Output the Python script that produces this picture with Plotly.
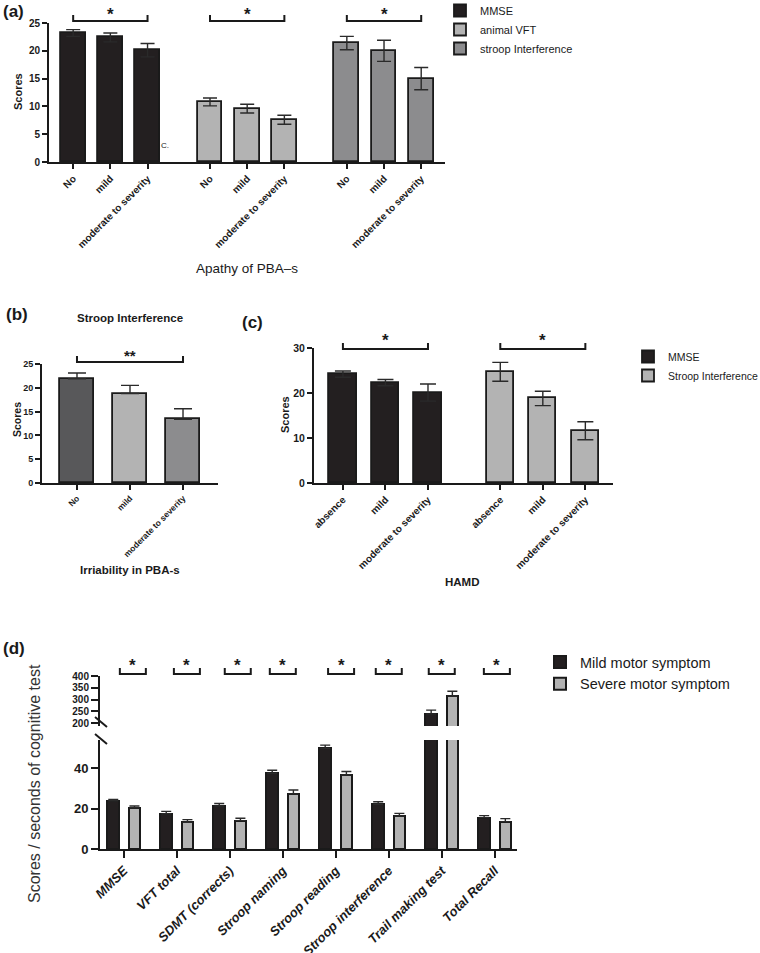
import plotly.graph_objects as go

W, H = 760, 953
FONT = "Liberation Sans, Arial, Helvetica, sans-serif"
INK = "#1a1a1a"

# ---------------- data ----------------
a_levels = ["No", "mild", "moderate to severity"]
a_tests = ["MMSE", "animal VFT", "stroop Interference"]
a_mmse = [23.2, 22.4, 20.1]
a_mmse_err = [0.6, 0.8, 1.2]
a_vft = [10.8, 9.6, 7.6]
a_vft_err = [0.7, 0.8, 0.8]
a_stroop = [21.4, 20.0, 15.0]
a_stroop_err = [1.2, 1.9, 2.0]
a_colors = ["#231f20", "#b3b3b3", "#8c8c8e"]

b_levels = ["No", "mild", "moderate to severity"]
b_stroop = [21.9, 18.8, 13.4]
b_stroop_err = [1.2, 1.7, 2.2]
b_colors = ["#58585a", "#b3b3b3", "#8c8c8e"]

c_levels = ["absence", "mild", "moderate to severity"]
c_tests = ["MMSE", "Stroop Interference"]
c_mmse = [24.2, 22.3, 20.1]
c_mmse_err = [0.7, 0.7, 1.9]
c_stroop = [24.7, 18.8, 11.6]
c_stroop_err = [2.1, 1.6, 2.0]
c_colors = ["#231f20", "#b3b3b3"]

d_tests = ["MMSE", "VFT total", "SDMT (corrects)", "Stroop naming", "Stroop reading",
           "Stroop interference", "Trail making test", "Total Recall"]
d_groups = ["Mild motor symptom", "Severe motor symptom"]
d_mild = [23.8, 17.4, 21.2, 37.4, 49.7, 22.1, 238, 15.5]
d_mild_err = [0.7, 1.2, 1.3, 1.5, 1.6, 1.2, 17, 1.0]
d_severe = [20.4, 13.2, 14.0, 27.2, 36.6, 16.3, 315, 13.5]
d_severe_err = [0.8, 1.3, 1.2, 1.9, 1.7, 1.3, 20, 1.5]
d_colors = ["#231f20", "#b3b3b3"]
d_bracket_shift = [0.17, 0.19, 0.15, 0.0, 0.1, 0.0, 0.0, 0.04]


# ---------------- helpers ----------------
def px(x):
    return x / W


def py(y):
    return 1 - y / H


def dom_x(l, r):
    return [px(l), px(r)]


def dom_y(top, bottom):
    return [py(bottom), py(top)]


def data_to_pix(xv, pl, pr, rng):
    return pl + (xv - rng[0]) / (rng[1] - rng[0]) * (pr - pl)


shapes = []
annotations = []


def bracket(x1, x2, yh, ystar, label="*", up=6, size=17):
    shapes.append(dict(type="path", xref="paper", yref="paper",
                       path=f"M {px(x1)},{py(yh-up)} L {px(x1)},{py(yh)} L {px(x2)},{py(yh)} L {px(x2)},{py(yh-up)}",
                       line=dict(color=INK, width=2)))
    annotations.append(dict(text=f"<b>{label}</b>", x=px((x1 + x2) / 2), y=py(ystar),
                            xref="paper", yref="paper", showarrow=False,
                            xanchor="center", yanchor="middle",
                            font=dict(size=size, color=INK, family=FONT)))


def text(t, x, y, size, bold=False, angle=0, xanchor="center", color=INK):
    annotations.append(dict(text=(f"<b>{t}</b>" if bold else t), x=px(x), y=py(y),
                            xref="paper", yref="paper", showarrow=False,
                            xanchor=xanchor, yanchor="middle", textangle=angle,
                            font=dict(size=size, color=color, family=FONT)))


def err(vals, sym=True, cap=7):
    e = dict(type="data", array=vals, visible=True, color="#2a2a2a", thickness=1.4, width=cap)
    if not sym:
        e.update(symmetric=False, arrayminus=[0] * len(vals))
    return e


def tf(size, **kw):
    d = dict(size=size, color=INK, family=FONT, weight="bold")
    d.update(kw)
    return d


def axstyle(**kw):
    d = dict(showline=True, linewidth=2, linecolor=INK, ticks="outside", ticklen=5,
             tickwidth=2, tickcolor=INK, showgrid=False, zeroline=False, tickfont=tf(10))
    d.update(kw)
    return d


fig = go.Figure()

# ---------------- panel (a) ----------------
A_L, A_R, A_T, A_B = 49, 445, 23, 162
a_xr = [-0.65, 10.0]
a_step = 3.68
a_x_all, a_txt_all = [], []
for g, (name, vals, errs, col) in enumerate(zip(a_tests, [a_mmse, a_vft, a_stroop],
                                                [a_mmse_err, a_vft_err, a_stroop_err], a_colors)):
    xs = [g * a_step + j for j in range(len(a_levels))]
    a_x_all += xs
    a_txt_all += a_levels
    fig.add_trace(go.Bar(x=xs, y=vals, width=0.67, name=name, marker=dict(color=col, line=dict(color=INK, width=1.8)),
                         error_y=err(errs), xaxis="x", yaxis="y", legend="legend", showlegend=True))
    p1 = data_to_pix(xs[0], A_L, A_R, a_xr)
    p2 = data_to_pix(xs[-1], A_L, A_R, a_xr)
    bracket(p1, p2, 21, 14)

# ---------------- panel (b) ----------------
B_L, B_R, B_T, B_B = 42, 218, 364, 483
b_xr = [-0.66, 2.66]
b_x = list(range(len(b_levels)))
fig.add_trace(go.Bar(x=b_x, y=b_stroop, width=0.64, marker=dict(color=b_colors, line=dict(color=INK, width=1.8)),
                     error_y=err(b_stroop_err, sym=False, cap=9), xaxis="x2", yaxis="y2", showlegend=False))
bracket(data_to_pix(b_x[0], B_L, B_R, b_xr), data_to_pix(b_x[-1], B_L, B_R, b_xr), 362, 356, label="**", size=15)

# ---------------- panel (c) ----------------
C_L, C_R, C_T, C_B = 314, 613, 348, 483
c_xr = [-0.68, 6.35]
c_step = 3.7
c_x_all, c_txt_all = [], []
for g, (name, vals, errs, col) in enumerate(zip(c_tests, [c_mmse, c_stroop], [c_mmse_err, c_stroop_err], c_colors)):
    xs = [g * c_step + j for j in range(len(c_levels))]
    c_x_all += xs
    c_txt_all += c_levels
    fig.add_trace(go.Bar(x=xs, y=vals, width=0.64, name=name, marker=dict(color=col, line=dict(color=INK, width=1.8)),
                         error_y=err(errs, cap=8), xaxis="x3", yaxis="y3", legend="legend2", showlegend=True))
    bracket(data_to_pix(xs[0], C_L, C_R, c_xr), data_to_pix(xs[-1], C_L, C_R, c_xr), 349, 341)

# ---------------- panel (d) ----------------
D_L, D_R = 100, 517
D_LOW_T, D_LOW_B = 740, 849
D_UP_T, D_UP_B = 676, 726
d_xr = [-0.45, 7.42]
d_low_r = [0, (D_LOW_B - D_LOW_T) / (81 / 40)]
d_up_r = [400 - (D_UP_B - D_UP_T) / (47 / 200), 400]
for gi, (name, vals, errs, col) in enumerate(zip(d_groups, [d_mild, d_severe], [d_mild_err, d_severe_err], d_colors)):
    off = -0.31 if gi == 0 else 0.09
    for xa, ya, sl in [("x4", "y4", True), ("x5", "y5", False)]:
        fig.add_trace(go.Bar(x=d_tests, y=vals, width=0.22, offset=off, name=name,
                             marker=dict(color=col, line=dict(color=INK, width=2)),
                             error_y=err(errs, sym=False, cap=5), xaxis=xa, yaxis=ya,
                             legend="legend3", showlegend=sl))
for i, s in enumerate(d_bracket_shift):
    c = data_to_pix(i + s, D_L, D_R, d_xr)
    bracket(c - 13, c + 13, 674, 665)

# axis-break slashes
for y0 in (717, 734):
    shapes.append(dict(type="line", xref="paper", yref="paper", x0=px(95), x1=px(107),
                       y0=py(y0), y1=py(y0 + 10), line=dict(color=INK, width=2)))

# ---------------- texts ----------------
text("(a)", 1, 12, 17, bold=True, xanchor="left")
text("Scores", 18, 92, 11, bold=True, angle=-90)
text("Apathy of PBA–s", 247, 268, 13.5)
text("C.", 165, 145, 8)
text("(b)", 4, 315, 17, bold=True, xanchor="left")
text("Stroop Interference", 130, 318, 11.5, bold=True)
text("Scores", 17, 420, 10.5, bold=True, angle=-90)
text("Irriability in PBA-s", 130, 570, 11.5, bold=True)
text("(c)", 240, 322, 17, bold=True, xanchor="left")
text("Scores", 285, 415, 11, bold=True, angle=-90)
text("HAMD", 463, 582, 11.5, bold=True)
text("(d)", 1, 648, 17, bold=True, xanchor="left")
text("Scores / seconds of cognitive test", 34, 784, 16, angle=-90, color="#333333")

fig.update_layout(
    width=W, height=H, autosize=False,
    margin=dict(l=0, r=0, t=0, b=0, autoexpand=False),
    paper_bgcolor="white", plot_bgcolor="white",
    font=dict(family=FONT, color=INK),
    bargap=0,
    xaxis=axstyle(domain=dom_x(A_L, A_R), range=a_xr, anchor="y", tickvals=a_x_all,
                  ticktext=a_txt_all, tickangle=-45),
    yaxis=axstyle(domain=dom_y(A_T, A_B), range=[0, 25], anchor="x", tickvals=[0, 5, 10, 15, 20, 25]),
    xaxis2=axstyle(domain=dom_x(B_L, B_R), range=b_xr, anchor="y2", tickvals=b_x,
                   ticktext=b_levels, tickangle=-45, tickfont=tf(8.5)),
    yaxis2=axstyle(domain=dom_y(B_T, B_B), range=[0, 25], anchor="x2", tickvals=[0, 5, 10, 15, 20, 25],
                   tickfont=tf(9)),
    xaxis3=axstyle(domain=dom_x(C_L, C_R), range=c_xr, anchor="y3", tickvals=c_x_all,
                   ticktext=c_txt_all, tickangle=-45, tickfont=tf(10)),
    yaxis3=axstyle(domain=dom_y(C_T, C_B), range=[0, 30], anchor="x3", tickvals=[0, 10, 20, 30],
                   tickfont=tf(10.5)),
    xaxis4=axstyle(domain=dom_x(D_L, D_R), range=d_xr, anchor="y4", type="category",
                   categoryorder="array", categoryarray=d_tests, tickangle=-45, ticklen=7,
                   tickfont=tf(13, style="italic")),
    yaxis4=axstyle(domain=dom_y(D_LOW_T, D_LOW_B), range=d_low_r, anchor="x4", tickvals=[0, 20, 40],
                   ticklen=7, tickfont=tf(13)),
    xaxis5=dict(domain=dom_x(D_L, D_R), range=d_xr, anchor="y5", type="category",
                categoryorder="array", categoryarray=d_tests, visible=False),
    yaxis5=axstyle(domain=dom_y(D_UP_T, D_UP_B), range=d_up_r, anchor="x5",
                   tickvals=[200, 250, 300, 350, 400], ticklen=7, tickfont=tf(10)),
    legend=dict(x=px(440), y=py(-4), xanchor="left", yanchor="top", bgcolor="rgba(0,0,0,0)",
                font=dict(size=11, family=FONT, color=INK), tracegroupgap=0),
    legend2=dict(x=px(628), y=py(342), xanchor="left", yanchor="top", bgcolor="rgba(0,0,0,0)",
                 font=dict(size=10.5, family=FONT, color=INK), tracegroupgap=0),
    legend3=dict(x=px(540), y=py(646), xanchor="left", yanchor="top", bgcolor="rgba(0,0,0,0)",
                 font=dict(size=14.5, family=FONT, color=INK), tracegroupgap=0),
    shapes=shapes,
    annotations=annotations,
)

fig.write_html("out.html", config={"displayModeBar": False},
               post_script="document.body.style.margin='0';")
